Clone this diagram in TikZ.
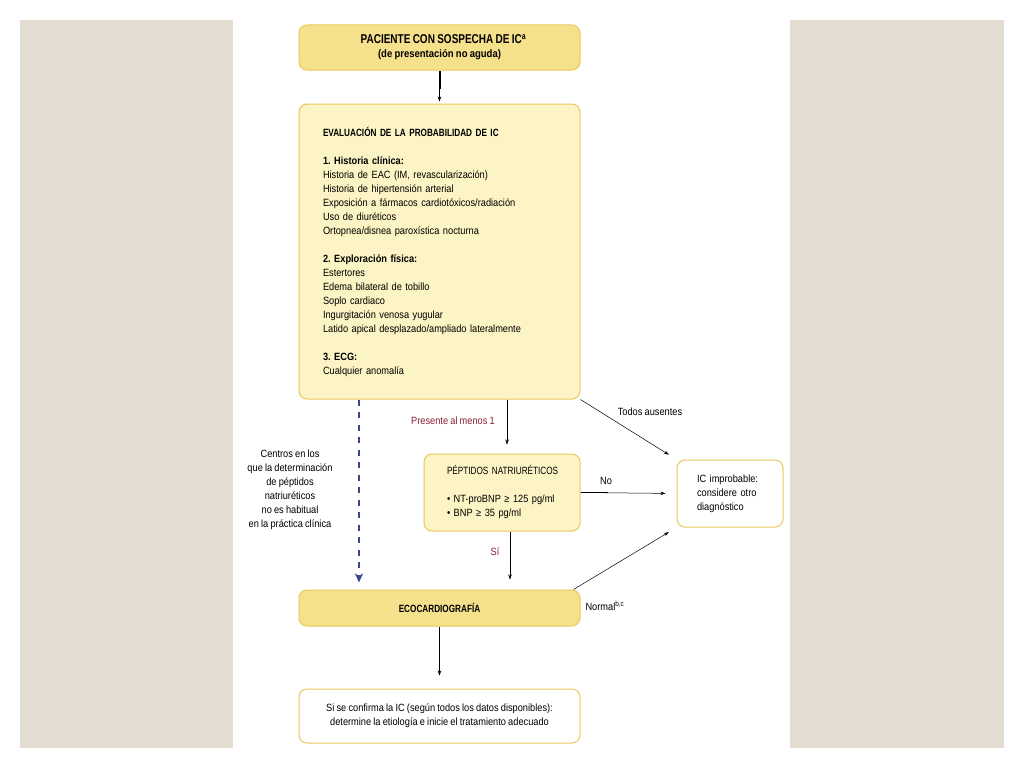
\documentclass[tikz,border=0pt]{standalone}
\usepackage{fontspec}
\setmainfont{Liberation Sans}[FakeStretch=0.88, WordSpace=0.85]
\newfontfamily\titular{Liberation Sans}[FakeStretch=0.78, WordSpace=0.85]
\usetikzlibrary{arrows.meta}

\definecolor{ocre}{HTML}{F5E08C}
\definecolor{crema}{HTML}{FCF4C4}
\definecolor{borde}{HTML}{E9C95C}
\definecolor{fondo}{HTML}{E4DDD1}
\definecolor{granate}{HTML}{8A2233}
\definecolor{azul}{HTML}{3A4690}

\begin{document}
\frenchspacing
\begin{tikzpicture}[x=1pt, y=-1pt]
    \tikzset{
      caja/.style={draw=borde, line width=1pt, rounded corners=8pt,
        inner sep=0pt, font=\fontsize{10.5}{14}\selectfont},
      etiqueta/.style={font=\fontsize{10.5}{14}\selectfont, inner sep=0pt},
      flecha/.style={draw, line width=0.5pt, -{Stealth[length=5pt, width=3.5pt]}},
    }

    \useasboundingbox (0,0) rectangle (1024,768);
    \fill[fondo] (20,20) rectangle (1004,748);
    \fill[white] (233,20) rectangle (790,748);

    % cajas
    \node[caja, fill=ocre, minimum width=281pt, minimum height=45pt, align=center]
      (paciente) at (439.5,47.5)
      {\hspace*{8pt}\titular\bfseries\fontsize{12.8}{14}\selectfont PACIENTE CON SOSPECHA DE IC\textsuperscript{a}\\
       \normalfont\bfseries\fontsize{10.8}{14}\selectfont (de presentación no aguda)};
    \node[caja, fill=crema, minimum width=281pt, minimum height=295pt,
      text width=233pt, align=left] (evaluacion) at (439.5,251.5)
      {{\titular\bfseries EVALUACIÓN DE LA PROBABILIDAD DE IC}\\[14pt]
       \textbf{1. Historia clínica:}\\
       Historia de EAC (IM, revascularización)\\
       Historia de hipertensión arterial\\
       Exposición a fármacos cardiotóxicos/radiación\\
       Uso de diuréticos\\
       Ortopnea/disnea paroxística nocturna\\[14pt]
       \textbf{2. Exploración física:}\\
       Estertores\\
       Edema bilateral de tobillo\\
       Soplo cardiaco\\
       Ingurgitación venosa yugular\\
       Latido apical desplazado/ampliado lateralmente\\[14pt]
       \textbf{3. ECG:}\\
       Cualquier anomalía};
    \node[caja, fill=crema, minimum width=156pt, minimum height=77pt,
      text width=110pt, align=left] (peptidos) at (502,492.5)
      {\mbox{\titular PÉPTIDOS NATRIURÉTICOS}\\[14pt]
       • NT-proBNP ≥ 125 pg/ml\\
       • BNP ≥ 35 pg/ml};
    \node[caja, fill=white, minimum width=106pt, minimum height=67pt,
      text width=66pt, align=left] (improbable) at (730,493.5)
      {IC improbable:\\considere otro\\diagnóstico};
    \node[caja, fill=ocre, minimum width=281pt, minimum height=36pt,
      font=\titular\bfseries\fontsize{10.5}{14}\selectfont]
      (ecocardio) at (439.5,608) {ECOCARDIOGRAFÍA};
    \node[caja, fill=white, minimum width=281pt, minimum height=54pt, align=center]
      (confirma) at (439.5,716)
      {Si se confirma la IC (según todos los datos disponibles):\\
       determine la etiología e inicie el tratamiento adecuado};

    % conectores
    \draw[line width=2pt] (paciente.south) -- ++(0,18);
    \draw[flecha, shorten >=2pt] (paciente.south) -- (evaluacion.north);
    \draw[flecha, azul, line width=1.6pt, dash pattern=on 6pt off 6.5pt,
      -{Stealth[length=9pt, width=8pt, inset=2.5pt]}, shorten >=7pt]
      ([xshift=-80.5pt]evaluacion.south) -- ([xshift=-80.5pt]ecocardio.north);
    \draw[flecha, shorten >=9pt]
      ([xshift=5pt]peptidos.north |- evaluacion.south) -- ([xshift=5pt]peptidos.north);
    \draw[flecha, shorten >=9pt] (evaluacion.south east) -- (improbable.north west);
    \draw[line width=1.5pt] (peptidos.east) -- ++(27,0);
    \draw[flecha, shorten >=11pt] (peptidos.east) -- (improbable.west);
    \draw[flecha, shorten >=10pt]
      ([xshift=8pt]peptidos.south) -- ([xshift=8pt]peptidos.south |- ecocardio.north);
    \draw[flecha, shorten >=9pt] ([xshift=-7pt]ecocardio.north east) -- (improbable.south west);
    \draw[flecha, shorten >=13pt] (ecocardio.south) -- (confirma.north);

    % etiquetas
    \node[etiqueta, text=granate] (presente) at (453,421) {Presente al menos 1};
    \node[etiqueta] (ausentes) at (650,412) {Todos ausentes};
    \node[etiqueta] (no) at (606,481) {No};
    \node[etiqueta, text=granate] (si) at (495,552) {Sí};
    \node[etiqueta] (normal) at (605,606) {Normal\textsuperscript{b,c}};
    \node[etiqueta, align=center] (centros) at (290,489.5)
      {Centros en los\\que la determinación\\de péptidos\\natriuréticos\\no es habitual\\en la práctica clínica};
\end{tikzpicture}
\end{document}
